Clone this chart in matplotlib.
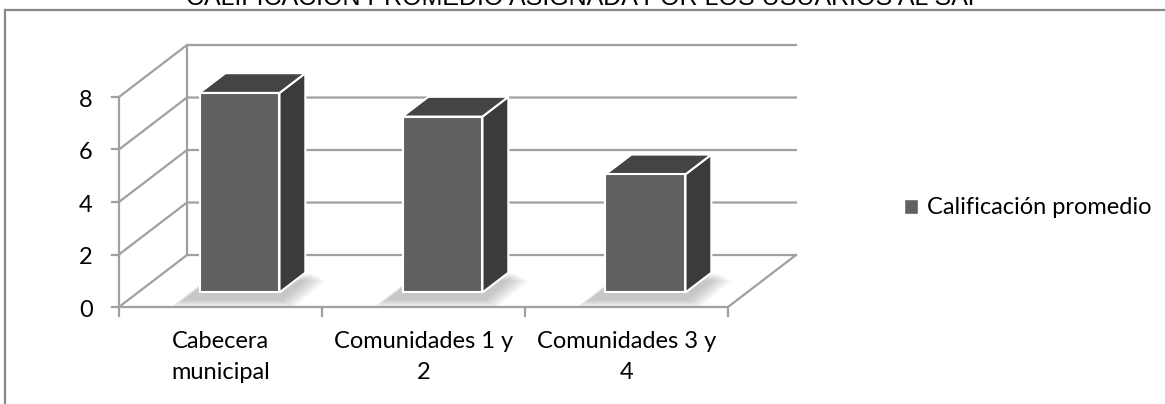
import matplotlib
matplotlib.use("Agg")
import matplotlib.pyplot as plt
from matplotlib.patches import Polygon, Patch

# average rating per zone
categories = ["Cabecera\nmunicipal", "Comunidades 1 y\n2", "Comunidades 3 y\n4"]
ratings = [7.6, 6.7, 4.5]
y_ticks = [0, 2, 4, 6, 8]
series_name = "Calificación promedio"
title = "CALIFICACIÓN PROMEDIO ASIGNADA POR LOS USUARIOS AL SAP"

FONT = "Lato"
FRONT = "#606060"
SIDE = "#3b3b3b"
TOP = "#444444"
GRID = "#a0a0a0"

# oblique depth: full depth shifts x by DX categories and y by DY value units
DX, DY = 0.335, 1.98
BAR_W = 0.394
D0, D1 = 0.28, 0.66


def proj(x, v, d):
    return (x + d * DX, v + d * DY)


fig = plt.figure(figsize=(11.65, 4.04), dpi=100)
ax = fig.add_axes([0, 0, 1, 1])
ax.set_xlim(-1.086, 4.653)
ax.set_ylim(-3.695, 11.695)
ax.axis("off")

x0, x1 = -0.5, len(categories) - 0.5
ymax = y_ticks[-1]
lw = 1.6

# left wall and back wall grid
for v in y_ticks:
    p_front = proj(x0, v, 0)
    p_back = proj(x0, v, 1)
    p_right = proj(x1, v, 1)
    ax.plot([p_front[0], p_back[0], p_right[0]], [p_front[1], p_back[1], p_right[1]],
            color=GRID, lw=lw, zorder=1, solid_joinstyle="miter")
    ax.plot([p_front[0] - 0.035, p_front[0]], [v, v], color=GRID, lw=lw, zorder=1)
ax.plot([x0, x0], [0, ymax], color=GRID, lw=lw, zorder=1)
pb0, pb1 = proj(x0, 0, 1), proj(x0, ymax, 1)
ax.plot([pb0[0], pb1[0]], [pb0[1], pb1[1]], color=GRID, lw=lw, zorder=1)

# floor front and right edges
pr = proj(x1, 0, 1)
ax.plot([x0, x1, pr[0]], [0, 0, pr[1]], color=GRID, lw=lw, zorder=1,
        solid_joinstyle="miter")
for xb in range(len(categories) + 1):
    ax.plot([xb - 0.5, xb - 0.5], [0, -0.35], color=GRID, lw=lw, zorder=1)

for v in y_ticks:
    ax.text(x0 - 0.13, v - 0.12, str(v), ha="right", va="center",
            fontsize=17, family=FONT, color="black")

for i, lab in enumerate(categories):
    ax.text(i, -0.9, lab, ha="center", va="top", fontsize=17, family=FONT,
            color="black", linespacing=1.6)

# bars
for i, val in enumerate(ratings):
    l, r = i - BAR_W / 2, i + BAR_W / 2
    # soft shadow around the base, mostly towards the front-left
    for k in range(7):
        e = 0.010 * (7 - k)
        ey = 0.30 * (7 - k) / 7
        base = [proj(l - e - 0.07, -ey - 0.25, D0), proj(r + e, -ey - 0.25, D0),
                proj(r + e + 0.03, -ey, D1), proj(l - e - 0.03, -ey, D1)]
        ax.add_patch(Polygon(base, closed=True, facecolor="#7a7a7a",
                             edgecolor="none", alpha=0.07, zorder=2))
    front = [proj(l, 0, D0), proj(r, 0, D0), proj(r, val, D0), proj(l, val, D0)]
    side = [proj(r, 0, D0), proj(r, 0, D1), proj(r, val, D1), proj(r, val, D0)]
    top = [proj(l, val, D0), proj(r, val, D0), proj(r, val, D1), proj(l, val, D1)]
    for poly, col in [(side, SIDE), (top, TOP), (front, FRONT)]:
        ax.add_patch(Polygon(poly, closed=True, facecolor=col, edgecolor="white",
                             lw=1.5, joinstyle="miter", zorder=3))

# outer chart border and title
fig.add_artist(plt.Line2D([5 / 1165, 1], [1 - 10 / 404, 1 - 10 / 404],
                          color="#888888", lw=1.6))
fig.add_artist(plt.Line2D([5 / 1165, 5 / 1165], [0, 1 - 10 / 404],
                          color="#888888", lw=1.6))
fig.text(585 / 1165, 1 - 5 / 404, title, ha="center", va="baseline",
         fontsize=18, family="Liberation Sans", color="black")

handle = Patch(facecolor=FRONT, edgecolor="white", label=series_name)
ax.legend(handles=[handle], loc="center left",
          bbox_to_anchor=(883 / 1165, 1 - 208 / 404), frameon=False,
          handlelength=0.6, handleheight=0.6, handletextpad=0.35,
          prop={"family": FONT, "size": 17})

fig.savefig("out.png", dpi=100)
